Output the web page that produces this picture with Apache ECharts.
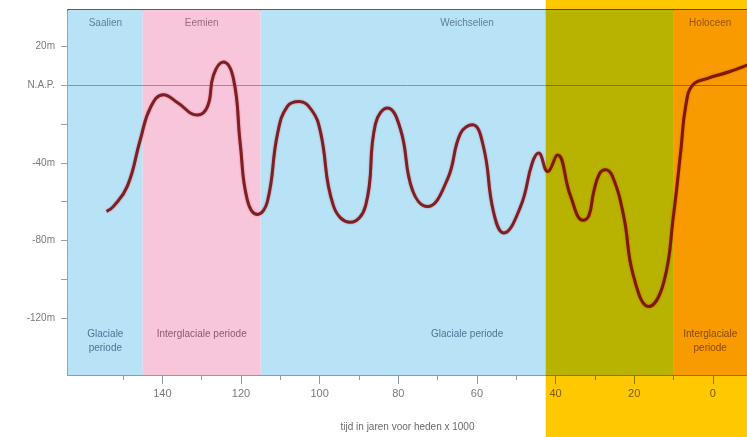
<!DOCTYPE html>
<html>
<head>
<meta charset="utf-8">
<script src="https://cdn.jsdelivr.net/npm/echarts@6/dist/echarts.min.js"></script>
<style>html,body{margin:0;padding:0;background:#fff}#c{width:747px;height:437px}</style>
</head>
<body>
<div id="c"></div>
<script>
// Years before present (x 1000) and sea level relative to N.A.P. (m)
const years  = [154.2,152.5,148.9,145.6,143,139.7,136.2,131.1,128.5,127,124.5,121.9,120.2,118.4,115.8,113.3,110.7,108.2,105.2,102,99.8,96.5,92.2,88.3,85.8,82.7,79.4,76.4,72.6,67.5,64.2,61.1,58.3,55.8,53.2,48.9,45.9,44.3,42,39.5,36.2,33,31.5,30.3,28.8,27.3,25.5,22.7,20.2,16.3,12.5,10,8.1,6.9,5.1,1.3,-3.8,-8.8];
const levels = [-65,-62.5,-52,-28,-11.5,-5,-9,-15.5,-11,5,11.8,3,-30,-59,-66.5,-60,-25,-11,-8.5,-13,-24,-62,-70.5,-62,-20,-11.8,-23,-54,-62.5,-48.5,-25,-20.5,-32,-65,-76,-62.5,-40,-35,-44.5,-36,-57,-69.5,-67,-55,-45.5,-43.5,-47,-67,-98,-113.8,-101.5,-67,-33,-11,0,3.4,6.5,10.2];

const xMin = -8.7, xMax = 164;
const yMin = -149, yMax = 38.5;
const xTickValues  = [150,140,130,120,110,100,90,80,70,60,50,40,30,20,10,0];
const xLabelValues = [140,120,100,80,60,40,20,0];
const yTickValues  = [20,0,-20,-40,-60,-80,-100,-120];
const yLabelValues = [20,0,-40,-80,-120];
const yLabelTexts  = ['20m','N.A.P.','-40m','-80m','-120m'];

const periodNames  = ['Saalien','Eemien','Weichselien','Holoceen'];
const periodStart  = [xMax,145,115,10];
const periodEnd    = [145,115,10,xMin];
const periodKind   = ['Glaciale\nperiode','Interglaciale periode','Glaciale periode','Interglaciale\nperiode'];
const periodWarm   = [false,true,false,true];
const overlayStart = 42.5;

const COLD = '#B8E3F7', WARM = '#F7C6DB';
const seaData = years.map((y,i)=>[y,levels[i]]);

const bandAreas = periodNames.map((n,i)=>[
  {xAxis:periodStart[i], itemStyle:{color: periodWarm[i]?WARM:COLD}},
  {xAxis:periodEnd[i]}
]);
const topAreas = periodNames.map((n,i)=>[
  {name:n, xAxis:periodStart[i], label:{color: periodWarm[i]?'#9a6a80':'#5f7f96'}},
  {xAxis:periodEnd[i]}
]);
const botAreas = periodKind.map((n,i)=>[
  {name:n, xAxis:periodStart[i], label:{color: periodWarm[i]?'#8a5a72':'#4f7393'}},
  {xAxis:periodEnd[i]}
]);

const chart = echarts.init(document.getElementById('c'), null, {renderer:'canvas'});
const commonX = {type:'value', inverse:true, min:xMin, max:xMax, splitLine:{show:false}, gridIndex:0};
chart.setOption({
  backgroundColor:'#ffffff',
  animation:false,
  grid:{left:68, top:10, right:0, bottom:61},
  xAxis:[
    Object.assign({}, commonX, {
      position:'bottom',
      axisLine:{show:true, onZero:false, lineStyle:{color:'#8c9ca8', width:2}},
      axisTick:{show:true, customValues:xTickValues, length:5, lineStyle:{color:'#8c9ca8'}},
      axisLabel:{show:true, customValues:xLabelValues, margin:13, fontSize:11, fontFamily:'Liberation Sans',
        color:'#7a7a7a'},
      name:'tijd in jaren voor heden x 1000', nameLocation:'middle', nameGap:47,
      nameTextStyle:{fontSize:10, color:'#6a6a6a', fontFamily:'Liberation Sans'}
    }),
    Object.assign({}, commonX, {
      position:'bottom',
      axisLine:{show:false, onZero:false},
      axisTick:{show:true, customValues:xLabelValues, length:9, lineStyle:{color:'#8c9ca8'}},
      axisLabel:{show:false}
    }),
    Object.assign({}, commonX, {
      position:'top',
      axisLine:{show:true, onZero:false, lineStyle:{color:'#4f6272', width:2}},
      axisTick:{show:false},
      axisLabel:{show:false}
    })
  ],
  yAxis:{
    type:'value', min:yMin, max:yMax, position:'left',
    splitLine:{show:false},
    axisLine:{show:true, onZero:false, lineStyle:{color:'#95a5b2', width:2}},
    axisTick:{show:true, customValues:yTickValues, length:7, lineStyle:{color:'#95a5b2'}},
    axisLabel:{show:true, customValues:yLabelValues, margin:13, fontSize:10, fontFamily:'Liberation Sans', color:'#7a7a7a',
      formatter:(v)=>{const i=yLabelValues.indexOf(v); return i>=0?yLabelTexts[i]:'';}}
  },
  series:[
    {type:'line', name:'bands', data:[], silent:true,
      markArea:{silent:true, label:{show:false}, data:bandAreas}},
    {type:'line', name:'topLabels', data:[], silent:true,
      markArea:{silent:true, itemStyle:{color:'rgba(0,0,0,0)'},
        label:{show:true, position:['50%',8], align:'center', verticalAlign:'top', fontSize:10, fontFamily:'Liberation Sans'},
        data:topAreas}},
    {type:'line', name:'botLabels', data:[], silent:true,
      markArea:{silent:true, itemStyle:{color:'rgba(0,0,0,0)'},
        label:{show:true, position:['50%','87%'], align:'center', verticalAlign:'top', fontSize:10, lineHeight:14, fontFamily:'Liberation Sans'},
        data:botAreas}},
    {type:'line', name:'zeespiegel', data:seaData, smooth:0.45, symbol:'none', z:5,
      lineStyle:{color:'#7e1f25', width:3, shadowColor:'rgba(190,60,60,0.6)', shadowBlur:2},
      markLine:{silent:true, symbol:'none', label:{show:false},
        lineStyle:{color:'#7e98a8', width:1, type:'solid'}, data:[{yAxis:0}]}}
  ]
});

const px = chart.convertToPixel({xAxisIndex:0}, overlayStart);
chart.setOption({
  graphic:[{type:'rect', silent:true, z:100,
    shape:{x:px, y:0, width:chart.getWidth()-px, height:chart.getHeight()},
    style:{fill:'#FFC800', blend:'multiply'}}]
});
</script>
</body>
</html>
